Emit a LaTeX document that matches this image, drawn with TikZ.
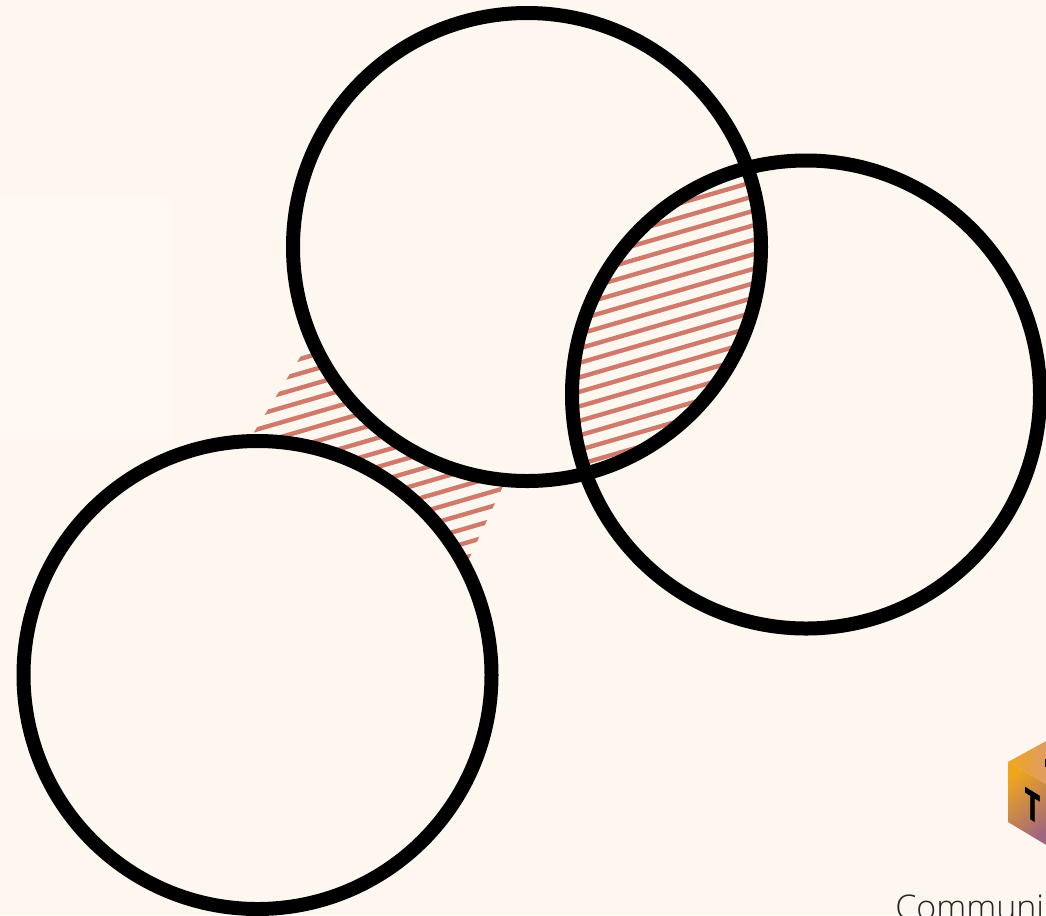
\documentclass[tikz,border=0pt]{standalone}
\usepackage{fontspec}
\newfontfamily\captionfont{Open Sans Light}
\newfontfamily\logofont[FakeBold=2]{Open Sans Bold}
\definecolor{paper}{HTML}{FEF7F0}
\definecolor{patch}{HTML}{FFF8F0}
\definecolor{hatchc}{HTML}{CF7A6B}
\definecolor{cubeA}{HTML}{F0A61C}
\definecolor{cubeB}{HTML}{A0667F}
\definecolor{cubeC}{HTML}{DE9C68}
\tikzset{
  ring/.style={draw=black,line width=10.5pt},
  hatchline/.style={draw=hatchc,line width=3.3pt},
}
% #1: y of one stripe at x=255
\newcommand{\hatchlines}[1]{%
  \foreach \k in {-30,...,30}{
    \path[hatchline] (200,{#1+\k*14.5+0.29*55}) -- (800,{#1+\k*14.5-0.29*545});
  }}
\begin{document}
\begin{tikzpicture}[x=0.75pt,y=-0.75pt]
\useasboundingbox (0,0) rectangle (1046,915);
\clip (0,0) rectangle (1046,915);
\fill[paper] (0,0) rectangle (1046,915);
\fill[patch] (0,195) rectangle (173,441);
\coordinate (ct) at (527,247);
\coordinate (cr) at (806,394.5);
\coordinate (cb) at (257.5,675);
% band between top and lower circles
\begin{scope}
  \clip (320,325) -- (240,455) -- (452,595) -- (527,435) -- cycle;
  \hatchlines{430}
\end{scope}
\fill[paper] (ct) circle[radius=175.5pt];
\fill[paper] (cb) circle[radius=175.5pt];
% lens
\begin{scope}
  \clip (ct) circle[radius=175.5pt];
  \clip (cr) circle[radius=175.5pt];
  \hatchlines{442.4}
\end{scope}
\path[ring] (ct) circle[radius=175.5pt];
\path[ring] (cr) circle[radius=175.5pt];
\path[ring] (cb) circle[radius=175.5pt];
% logo
\shade[top color=cubeA,bottom color=cubeB,shading angle=40] (1008,762) -- (1048,785) -- (1048,846) -- (1008,822) -- cycle;
\shade[left color=cubeA,right color=cubeC] (1008,762) -- (1048,740) -- (1048,785) -- cycle;
\fill[black] (1044.5,759) rectangle (1047,767);
\node[cm={0.65,-0.40,0,1,(1032.5,806)},inner sep=0pt,font=\logofont\fontsize{30pt}{30pt}\selectfont] (logoT) at (0,0) {T};
\node[anchor=base west,inner sep=0pt,text=black!85,font=\captionfont\fontsize{25.5pt}{25.5pt}\selectfont] (caption) at (895,919) {Communi};
\end{tikzpicture}
\end{document}
